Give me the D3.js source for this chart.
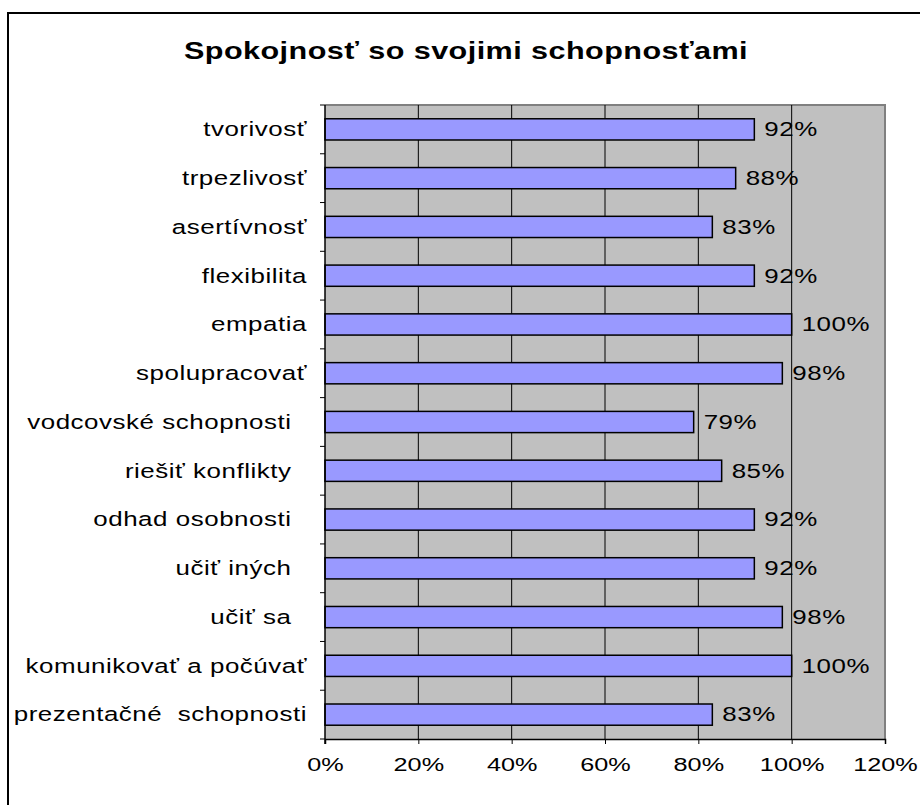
<!DOCTYPE html>
<html>
<head>
<meta charset="utf-8">
<script src="https://cdn.jsdelivr.net/npm/d3@7"></script>
<style>
  html, body { margin: 0; padding: 0; background: #fff; }
  svg text { font-family: "Liberation Sans", Arial, sans-serif; fill: #000; white-space: pre; }
</style>
</head>
<body>
<svg id="chart" width="920" height="805"></svg>
<script>
const title = 'Spokojnosť so svojimi schopnosťami';
const categories = [
  'tvorivosť',
  'trpezlivosť',
  'asertívnosť',
  'flexibilita',
  'empatia',
  'spolupracovať',
  'vodcovské schopnosti  ',
  'riešiť konflikty  ',
  'odhad osobnosti  ',
  'učiť iných  ',
  'učiť sa  ',
  'komunikovať a počúvať',
  'prezentačné  schopnosti'
];
const values = [0.92, 0.88, 0.83, 0.92, 1.00, 0.98, 0.79, 0.85, 0.92, 0.92, 0.98, 1.00, 0.83];
const xTicks = [0, 0.2, 0.4, 0.6, 0.8, 1.0, 1.2];

const sx = 1.33; // the original text is stretched sideways
const svg = d3.select('#chart');
const plotLeft = 325, plotRight = 885, plotTop = 105, plotBottom = 739;

// outer chart frame (runs past the right and bottom edge)
svg.append('rect')
  .attr('x', 8).attr('y', 13)
  .attr('width', 930).attr('height', 820)
  .attr('fill', 'none')
  .attr('stroke', '#000')
  .attr('stroke-width', 2);

svg.append('text')
  .attr('transform', `translate(466,59) scale(${sx},1)`)
  .attr('text-anchor', 'middle')
  .style('font-size', '23px')
  .style('font-weight', 'bold')
  .style('letter-spacing', '0.33px')
  .text(title);

const x = d3.scaleLinear().domain([0, 1.2]).range([plotLeft, plotRight]);
const y = d3.scaleBand().domain(categories).range([plotTop, plotBottom])
  .paddingInner(0.565).paddingOuter(0.2825);

// plot area
svg.append('rect')
  .attr('x', plotLeft).attr('y', plotTop)
  .attr('width', plotRight - plotLeft).attr('height', plotBottom - plotTop)
  .attr('fill', '#c0c0c0');
svg.append('path')
  .attr('d', `M${plotLeft},${plotTop}H${plotRight}V${plotBottom}`)
  .attr('fill', 'none')
  .attr('stroke', '#808080')
  .attr('stroke-width', 2);

// gridlines
svg.append('g').selectAll('line')
  .data(xTicks.filter(d => d > 0 && d < 1.2))
  .enter().append('line')
  .attr('x1', d => x(d)).attr('x2', d => x(d))
  .attr('y1', plotTop).attr('y2', plotBottom)
  .attr('stroke', '#000')
  .attr('stroke-width', 1);

// bars
svg.append('g').selectAll('rect')
  .data(values)
  .enter().append('rect')
  .attr('class', 'bar')
  .attr('x', x(0))
  .attr('y', (d, i) => y(categories[i]))
  .attr('width', d => x(d) - x(0))
  .attr('height', y.bandwidth())
  .attr('fill', '#9999ff')
  .attr('stroke', '#000')
  .attr('stroke-width', 1.5);

// value labels
svg.append('g').selectAll('text')
  .data(values)
  .enter().append('text')
  .attr('transform', (d, i) => `translate(${x(d) + 10},${y(categories[i]) + y.bandwidth() / 2}) scale(${sx},1)`)
  .attr('dy', '0.35em')
  .style('font-size', '19.5px')
  .style('letter-spacing', '0.4px')
  .text(d => d3.format('.0%')(d));

// x axis
const xAxis = svg.append('g')
  .attr('transform', `translate(0,${plotBottom})`)
  .call(d3.axisBottom(x).tickValues(xTicks).tickFormat(d3.format('.0%')).tickSize(5).tickPadding(14));
xAxis.select('.domain').attr('stroke', '#000').attr('stroke-width', 1.5);
xAxis.selectAll('.tick line').attr('stroke', '#000');
xAxis.selectAll('.tick text')
  .attr('transform', `scale(${sx},1)`)
  .attr('fill', '#000')
  .style('font-size', '19px');
xAxis.attr('font-family', null).attr('font-size', null);

// y axis: line, ticks between categories, labels
const step = y.step();
const y0 = y.range()[0];
svg.append('line')
  .attr('x1', plotLeft).attr('x2', plotLeft)
  .attr('y1', plotTop).attr('y2', plotBottom + 5)
  .attr('stroke', '#000').attr('stroke-width', 1.5);
svg.append('g').selectAll('line')
  .data(d3.range(categories.length + 1))
  .enter().append('line')
  .attr('x1', plotLeft - 5).attr('x2', plotLeft)
  .attr('y1', i => y0 + i * step).attr('y2', i => y0 + i * step)
  .attr('stroke', '#000');

svg.append('g').selectAll('text')
  .data(categories)
  .enter().append('text')
  .attr('transform', d => `translate(${plotLeft - 18},${y(d) + y.bandwidth() / 2}) scale(${sx},1)`)
  .attr('text-anchor', 'end')
  .attr('dy', '0.35em')
  .style('font-size', '19.5px')
  .style('letter-spacing', '0.4px')
  .text(d => d);
</script>
</body>
</html>
